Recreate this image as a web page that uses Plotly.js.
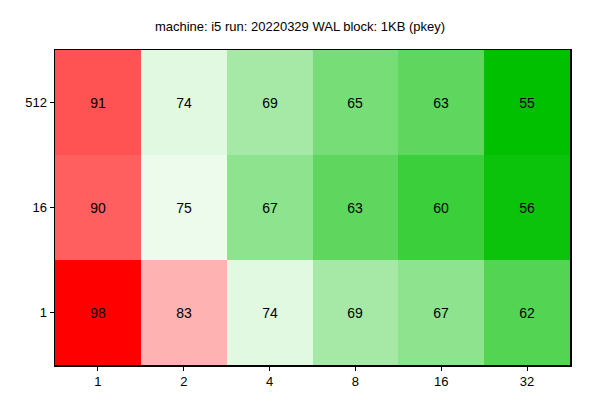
<!DOCTYPE html>
<html>
<head>
<script src="https://cdn.plot.ly/plotly-3.0.1.min.js"></script>
</head>
<body style="margin:0">
<div id="plot" style="width:600px;height:400px;"></div>
<script>
// threads on x, rows on y
var xLabels = ["1", "2", "4", "8", "16", "32"];
var yLabels = ["1", "16", "512"];
var zValues = [
  [98, 83, 74, 69, 67, 62],
  [90, 75, 67, 63, 60, 56],
  [91, 74, 69, 65, 63, 55]
];

var trace = {
  type: "heatmap",
  x: xLabels,
  y: yLabels,
  z: zValues,
  zmin: 55,
  zmax: 98,
  colorscale: [[0, "#00c000"], [0.5, "#ffffff"], [1, "#ff0000"]],
  showscale: false,
  texttemplate: "%{z}",
  textfont: {size: 14, color: "#000"},
  hoverinfo: "none"
};

var layout = {
  width: 600, height: 400,
  margin: {l: 55, r: 30, t: 50, b: 35},
  font: {family: "Liberation Sans, Arial, sans-serif", size: 13, color: "#000"},
  title: {text: "machine: i5 run: 20220329 WAL block: 1KB (pkey)", y: 0.945, font: {size: 13}},
  xaxis: {type: "category", showline: true, mirror: true, linecolor: "#000", linewidth: 1.5,
          ticks: "outside", ticklen: 4, tickcolor: "#000"},
  yaxis: {type: "category", showline: true, mirror: true, linecolor: "#000", linewidth: 1.5,
          ticks: "outside", ticklen: 4, tickcolor: "#000"},
  paper_bgcolor: "#fff", plot_bgcolor: "#fff"
};

Plotly.newPlot("plot", [trace], layout, {staticPlot: true});
</script>
</body>
</html>
